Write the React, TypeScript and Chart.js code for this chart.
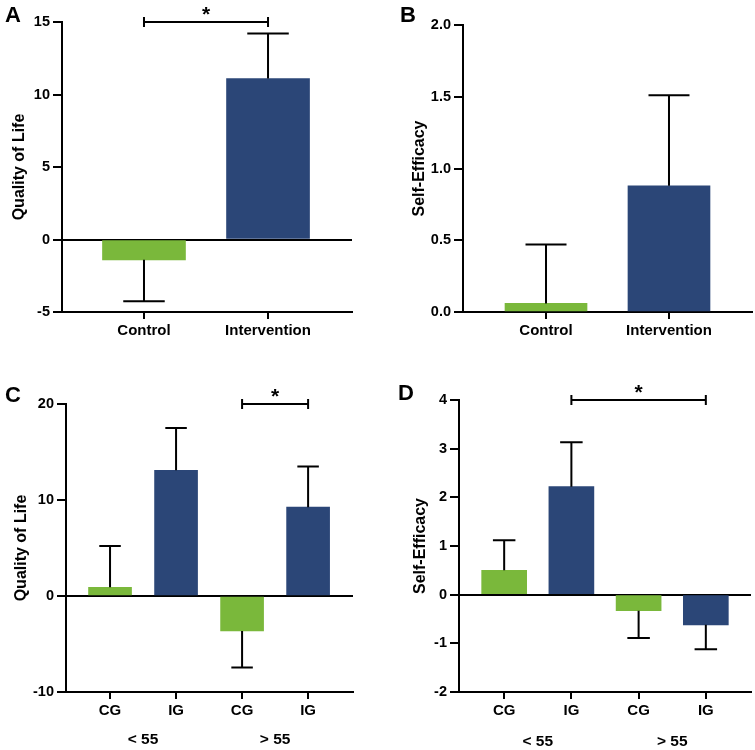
import React, { useEffect, useRef } from 'react';
import { Chart, registerables } from 'chart.js';

Chart.register(...registerables);

const GREEN = '#7AB83B';
const NAVY = '#2B4677';
const FONT = "Arial, 'Liberation Sans', sans-serif";

// Panels A and B: overall groups
const groupCategories = ['Control', 'Intervention'];
const groupColors = [GREEN, NAVY];
const qolGroupMeans = [-1.4, 11.1];
const qolGroupErrors = [2.85, 3.1];
const seGroupMeans = [0.06, 0.88];
const seGroupErrors = [0.41, 0.63];

// Panels C and D: by age group
const ageCategories = ['CG', 'IG', 'CG', 'IG'];
const ageGroupLabels = ['< 55', '> 55'];
const ageColors = [GREEN, NAVY, GREEN, NAVY];
const qolAgeMeans = [0.9, 13.1, -3.65, 9.25];
const qolAgeErrors = [4.3, 4.4, 3.8, 4.25];
const seAgeMeans = [0.5, 2.22, -0.33, -0.62];
const seAgeErrors = [0.62, 0.91, 0.56, 0.5];

// Y axis ranges (min, max, step)
const yRangeA = [-5, 15, 5];
const yRangeB = [0, 2, 0.5];
const yRangeC = [-10, 20, 10];
const yRangeD = [-2, 4, 1];

type PanelCfg = {
  letter: string;
  title: string;
  cats: string[];
  means: number[];
  errs: number[];
  colors: string[];
  yRange: number[];
  decimals: number;
  bracket: { from: number; to: number; value: number } | null;
  groups?: string[];
  box: { left: number; top: number; w: number; h: number };
  area: { left: number; top: number; right: number; bottom: number };
  xMin: number;
  xMax: number;
  barThickness: number;
  titlePad: number;
  letterPos: { x: number; y: number };
  groupOffset?: number;
};

const panels: PanelCfg[] = [
  {
    letter: 'A', title: 'Quality of Life', cats: groupCategories, means: qolGroupMeans, errs: qolGroupErrors,
    colors: groupColors, yRange: yRangeA, decimals: 0, bracket: { from: 0, to: 1, value: 15 },
    box: { left: 0, top: 0, w: 377, h: 345 }, area: { left: 62, top: 22, right: 352, bottom: 312 },
    xMin: -0.661, xMax: 1.677, barThickness: 83, titlePad: 10, letterPos: { x: 5, y: 22 },
  },
  {
    letter: 'B', title: 'Self-Efficacy', cats: groupCategories, means: seGroupMeans, errs: seGroupErrors,
    colors: groupColors, yRange: yRangeB, decimals: 1, bracket: null,
    box: { left: 380, top: 0, w: 375, h: 345 }, area: { left: 83, top: 25, right: 372, bottom: 312 },
    xMin: -0.675, xMax: 1.675, barThickness: 82, titlePad: 29.6, letterPos: { x: 20, y: 22 },
  },
  {
    letter: 'C', title: 'Quality of Life', cats: ageCategories, means: qolAgeMeans, errs: qolAgeErrors,
    colors: ageColors, yRange: yRangeC, decimals: 0, bracket: { from: 2, to: 3, value: 20 }, groups: ageGroupLabels,
    box: { left: 0, top: 370, w: 377, h: 380 }, area: { left: 66, top: 34, right: 353, bottom: 322 },
    xMin: -0.667, xMax: 3.68, barThickness: 43, titlePad: 11.6, letterPos: { x: 5, y: 32 }, groupOffset: 48,
  },
  {
    letter: 'D', title: 'Self-Efficacy', cats: ageCategories, means: seAgeMeans, errs: seAgeErrors,
    colors: ageColors, yRange: yRangeD, decimals: 0, bracket: { from: 1, to: 3, value: 4 }, groups: ageGroupLabels,
    box: { left: 380, top: 370, w: 375, h: 380 }, area: { left: 79, top: 30, right: 371, bottom: 322 },
    xMin: -0.672, xMax: 3.672, barThickness: 45, titlePad: 30.6, letterPos: { x: 18, y: 30 }, groupOffset: 50,
  },
];

function Panel({ cfg }: { cfg: PanelCfg }) {
  const ref = useRef<HTMLCanvasElement>(null);

  useEffect(() => {
    const canvas = ref.current!;
    const { box, area } = cfg;

    const decorations = {
      id: 'decorations',
      afterDatasetsDraw(chart: any) {
        const ctx = chart.ctx;
        const meta = chart.getDatasetMeta(0);
        const ys = chart.scales.y;
        ctx.save();
        ctx.strokeStyle = '#000';
        ctx.lineWidth = 2;
        meta.data.forEach((bar: any, i: number) => {
          const v = cfg.means[i];
          const e = cfg.errs[i];
          const end = v >= 0 ? v + e : v - e;
          const x = bar.x;
          const y0 = ys.getPixelForValue(v);
          const y1 = ys.getPixelForValue(end);
          const half = bar.width / 4;
          ctx.beginPath();
          ctx.moveTo(x, y0);
          ctx.lineTo(x, y1);
          ctx.moveTo(x - half, y1);
          ctx.lineTo(x + half, y1);
          ctx.stroke();
        });
        ctx.restore();
      },
      afterDraw(chart: any) {
        const ctx = chart.ctx;
        const xs = chart.scales.x;
        const ys = chart.scales.y;
        ctx.save();
        // panel letter
        ctx.fillStyle = '#000';
        ctx.font = `bold 22px ${FONT}`;
        ctx.textAlign = 'left';
        ctx.textBaseline = 'alphabetic';
        ctx.fillText(cfg.letter, cfg.letterPos.x, cfg.letterPos.y);
        // significance bracket
        if (cfg.bracket) {
          const x1 = xs.getPixelForValue(cfg.bracket.from);
          const x2 = xs.getPixelForValue(cfg.bracket.to);
          const yb = ys.getPixelForValue(cfg.bracket.value);
          ctx.strokeStyle = '#000';
          ctx.lineWidth = 2;
          ctx.beginPath();
          ctx.moveTo(x1, yb);
          ctx.lineTo(x2, yb);
          ctx.moveTo(x1, yb - 5);
          ctx.lineTo(x1, yb + 5);
          ctx.moveTo(x2, yb - 5);
          ctx.lineTo(x2, yb + 5);
          ctx.stroke();
          ctx.font = `bold 21px ${FONT}`;
          ctx.textAlign = 'center';
          ctx.textBaseline = 'alphabetic';
          ctx.fillText('*', (x1 + x2) / 2, yb - 1);
        }
        // group labels
        if (cfg.groups) {
          ctx.font = `bold 15.5px ${FONT}`;
          ctx.textAlign = 'center';
          ctx.textBaseline = 'middle';
          cfg.groups.forEach((g, gi) => {
            const x = xs.getPixelForValue(gi * 2 + 0.5);
            ctx.fillText(g, x, chart.chartArea.bottom + (cfg.groupOffset || 48));
          });
        }
        ctx.restore();
      },
    };

    const [yMin, yMax, yStep] = cfg.yRange;

    const chart = new Chart(canvas, {
      type: 'bar',
      data: {
        datasets: [
          {
            data: cfg.means.map((v, i) => ({ x: i, y: v })) as any,
            backgroundColor: cfg.colors,
            borderWidth: 0,
            barThickness: cfg.barThickness,
          },
        ],
      },
      options: {
        animation: false,
        responsive: false,
        maintainAspectRatio: false,
        devicePixelRatio: 1,
        layout: { padding: { left: 0, top: area.top, right: box.w - area.right, bottom: 0 } },
        plugins: { legend: { display: false }, tooltip: { enabled: false } },
        scales: {
          x: {
            type: 'linear',
            min: cfg.xMin,
            max: cfg.xMax,
            offset: false,
            afterBuildTicks: (scale: any) => {
              scale.ticks = cfg.cats.map((_, i) => ({ value: i }));
            },
            afterFit: (scale: any) => {
              scale.height = box.h - area.bottom;
            },
            ticks: {
              autoSkip: false,
              maxRotation: 0,
              padding: 3,
              color: '#000',
              font: { family: FONT, size: 15, weight: 'bold' },
              callback: (v: any) => cfg.cats[Math.round(Number(v))] ?? '',
            },
            grid: {
              offset: false,
              drawOnChartArea: false,
              drawTicks: true,
              tickLength: 7,
              tickColor: '#000',
              tickWidth: 2,
              color: '#000',
              lineWidth: 2,
            },
            border: { display: true, color: '#000', width: 2 },
          },
          y: {
            type: 'linear',
            min: yMin,
            max: yMax,
            z: 1,
            afterFit: (scale: any) => {
              scale.width = area.left;
            },
            ticks: {
              stepSize: yStep,
              padding: 3,
              color: '#000',
              font: { family: FONT, size: 14.5, weight: 'bold' },
              callback: (v: any) => (cfg.decimals ? Number(v).toFixed(cfg.decimals) : String(v)),
            },
            grid: {
              drawOnChartArea: true,
              drawTicks: true,
              tickLength: 9,
              tickColor: '#000',
              tickWidth: 2,
              color: (c: any) => (c.tick && c.tick.value === 0 ? '#000' : 'rgba(0,0,0,0)'),
              lineWidth: 2,
            },
            border: { display: true, color: '#000', width: 2 },
            title: {
              display: true,
              text: cfg.title,
              color: '#000',
              font: { family: FONT, size: 16, weight: 'bold' },
              padding: { top: cfg.titlePad, bottom: 0 },
            },
          },
        },
      },
      plugins: [decorations],
    } as any);

    return () => chart.destroy();
  }, []);

  return (
    <canvas
      ref={ref}
      width={cfg.box.w}
      height={cfg.box.h}
      style={{ position: 'absolute', left: cfg.box.left, top: cfg.box.top, width: cfg.box.w, height: cfg.box.h }}
    />
  );
}

export default function App() {
  return (
    <div style={{ position: 'absolute', left: 0, top: 0, width: 755, height: 750, background: '#fff', overflow: 'hidden' }}>
      {panels.map((p) => (
        <Panel key={p.letter} cfg={p} />
      ))}
    </div>
  );
}
